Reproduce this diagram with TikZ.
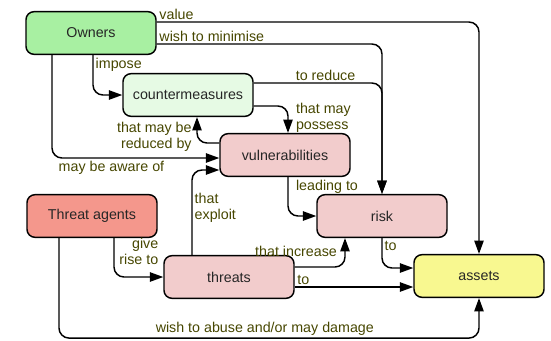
\documentclass[tikz,border=0pt]{standalone}
\usepackage{fontspec}
\setmainfont{Liberation Sans}
\usetikzlibrary{arrows.meta}

\definecolor{ownerfill}{RGB}{168,240,162}
\definecolor{cmfill}{RGB}{230,250,228}
\definecolor{pinkfill}{RGB}{242,204,204}
\definecolor{agentfill}{RGB}{244,151,140}
\definecolor{assetfill}{RGB}{248,248,144}
\definecolor{lbltext}{RGB}{70,70,0}

\tikzset{
  box/.style={draw, line width=1.1pt, rounded corners=6pt, minimum width=97.5pt,
    minimum height=32pt, text=black!85, font=\fontsize{10.7}{12}\selectfont},
  arr/.style={-{Triangle[length=10pt,width=7pt]}, line width=1.1pt, rounded corners=7.5pt},
  lbl/.style={text=lbltext, inner sep=1.5pt, font=\fontsize{10.7}{12}\selectfont}
}

\begin{document}
\begin{tikzpicture}[x=0.75pt, y=-0.75pt]
        \useasboundingbox (0,0) rectangle (551,340);

        \node[box, fill=ownerfill] (owners) at (91,33) {Owners};
        \node[box, fill=cmfill] (counter) at (188,95) {countermeasures};
        \node[box, fill=pinkfill] (vuln) at (285,155) {vulnerabilities};
        \node[box, fill=agentfill] (agents) at (92,216) {Threat agents};
        \node[box, fill=pinkfill] (threats) at (229,277) {threats};
        \node[box, fill=pinkfill] (risk) at (382,216) {risk};
        \node[box, fill=assetfill] (assets) at (479,276) {assets};

        % Edges from owners
        \draw[arr] ([yshift=8.25pt]owners.east) -| node[lbl, above right, pos=0] {value} (assets.north);
        \draw[arr] ([yshift=-8.25pt]owners.east) -| node[lbl, above right, pos=0] {wish to minimise} (risk.north);
        \draw[arr] ([xshift=1.5pt]owners.south) |- node[lbl, below right, pos=0] {impose} (counter.west);
        \draw[arr] ([xshift=-29.25pt]owners.south) |- node[lbl, below right, pos=0.5, xshift=3pt] {may be aware of} ([yshift=-2.25pt]vuln.west);

        % Edges from countermeasures and vulnerabilities
        \draw[arr] ([yshift=9pt]counter.east) -| node[lbl, above, pos=0.28] {to reduce} (risk.north);
        \draw[arr] ([yshift=-8.25pt]counter.east) -| node[lbl, right, align=left, pos=0.72, xshift=4pt] {that may\\possess} ([xshift=2.25pt]vuln.north);
        \draw[arr] ([yshift=9pt]vuln.west) -| node[lbl, anchor=north east, align=right, pos=1, xshift=-2pt, yshift=-1.5pt] {that may be\\reduced by} ([xshift=6.75pt]counter.south);
        \draw[arr] ([xshift=2.25pt]vuln.south) |- node[lbl, below right, pos=0, xshift=4pt] {leading to} (risk.west);

        % Edges from threats
        \draw[arr] ([xshift=-27.75pt]threats.north) |- node[lbl, right, align=left, pos=0.28] {that\\exploit} ([yshift=-11.25pt]vuln.west);
        \draw[arr] ([yshift=7.5pt]threats.east) -| node[lbl, anchor=south east, pos=0.5, yshift=6pt, xshift=-4pt] {that increase} ([xshift=-27.75pt]risk.south);
        \draw[arr] ([yshift=-7.5pt]threats.east) -- node[lbl, above right, pos=0] {to} ([yshift=-8.25pt]assets.west);
        \draw[arr] (risk.south) |- node[lbl, below right, pos=0] {to} ([yshift=6pt]assets.west);

        % Edges from threat agents
        \draw[arr] ([xshift=16.5pt]agents.south) |- node[lbl, anchor=south west, align=right, pos=0.5, xshift=2pt, yshift=7pt] {give\\rise to} (threats.west);
        \draw[arr] ([xshift=-24.75pt]agents.south) |- node[lbl, above, pos=0.745] {wish to abuse and/or may damage} ([yshift=-30pt]assets.south) -- (assets.south);
        \end{tikzpicture}
\end{document}
